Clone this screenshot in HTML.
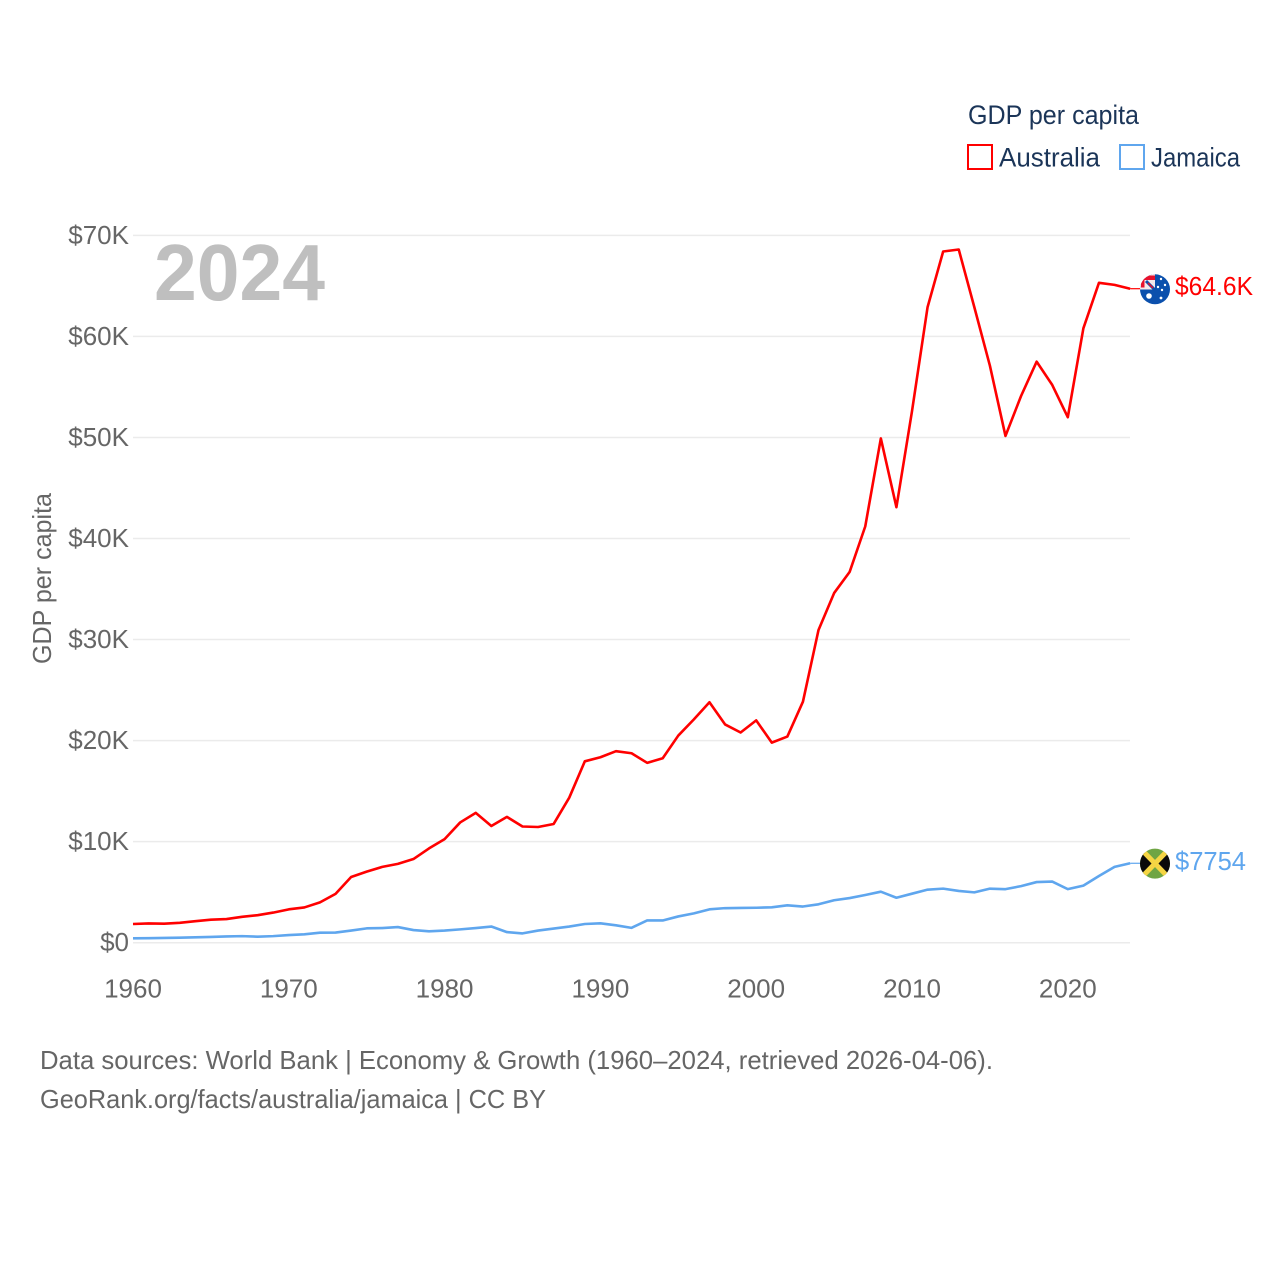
<!DOCTYPE html>
<html>
<head>
<meta charset="utf-8">
<title>GDP per capita: Australia and Jamaica</title>
<style>
html,body{margin:0;padding:0;background:#fff;}
svg{display:block;}
text{font-family:"Liberation Sans",sans-serif;}
.tick{font-size:26px;fill:#666;}
.foot{font-size:26px;fill:#666;}
.leg{font-size:27px;fill:#1b3558;}
</style>
</head>
<body>
<svg id="chart" xmlns="http://www.w3.org/2000/svg" width="1280" height="1280" viewBox="0 0 1280 1280">
  <defs>
    <clipPath id="clip-au"><circle cx="1155" cy="289.3" r="15"/></clipPath>
    <clipPath id="clip-jm"><circle cx="1155" cy="863.6" r="15"/></clipPath>
  </defs>
  <rect x="0" y="0" width="1280" height="1280" fill="#fff"/>
  <g id="grid"></g>
  <g id="yticks"></g>
  <g id="xticks"></g>
  <text x="154" y="300" font-size="80" font-weight="700" fill="#bfbfbf" textLength="171" lengthAdjust="spacingAndGlyphs">2024</text>
  <text class="tick" transform="translate(51,578.5) rotate(-90)" text-anchor="middle" textLength="171" lengthAdjust="spacingAndGlyphs">GDP per capita</text>
  <g id="series"></g>

  <g clip-path="url(#clip-au)">
    <rect x="1140" y="274" width="30" height="31" fill="#0b50ad"/>
    <rect x="1140" y="274" width="15" height="15.5" fill="#f6e9ea"/>
    <path d="M1146 281 L1155 290" stroke="#0b50ad" stroke-width="3" fill="none"/>
    <path d="M1148 283 L1153 288" stroke="#e8112d" stroke-width="1.5" fill="none"/>
    <rect x="1140" y="275.5" width="15" height="4.5" fill="#e8112d"/>
    <rect x="1141" y="275.5" width="3.5" height="12" fill="#e8112d"/>
    <circle cx="1149" cy="296" r="2.8" fill="#fff"/>
    <circle cx="1161" cy="279" r="1.2" fill="#fff"/>
    <circle cx="1158" cy="287" r="1.2" fill="#fff"/>
    <circle cx="1165" cy="285" r="1.2" fill="#fff"/>
    <circle cx="1162" cy="290" r="1.2" fill="#fff"/>
    <circle cx="1161" cy="298" r="1.4" fill="#fff"/>
  </g>
  <g clip-path="url(#clip-jm)">
    <rect x="1140" y="848" width="30" height="31" fill="#6fa544"/>
    <path d="M1138 846 L1155 863.6 L1138 881 Z M1172 846 L1155 863.6 L1172 881 Z" fill="#0a0a0a"/>
    <path d="M1138 846 L1172 881 M1172 846 L1138 881" stroke="#f5d544" stroke-width="5" fill="none"/>
  </g>

  <text id="label-au" x="1175" y="295" font-size="26" fill="#ff0000" textLength="78" lengthAdjust="spacingAndGlyphs"></text>
  <text id="label-jm" x="1175" y="870" font-size="26" fill="#5fa6ee" textLength="71" lengthAdjust="spacingAndGlyphs"></text>

  <g>
    <text class="leg" x="968" y="124" textLength="171" lengthAdjust="spacingAndGlyphs">GDP per capita</text>
    <rect x="968" y="145" width="24" height="24" fill="#fff" stroke="#ff0000" stroke-width="2"/>
    <text class="leg" x="999" y="166.5" textLength="101" lengthAdjust="spacingAndGlyphs">Australia</text>
    <rect x="1120" y="145" width="24" height="24" fill="#fff" stroke="#5fa6ee" stroke-width="2"/>
    <text class="leg" x="1151" y="166.5" textLength="89" lengthAdjust="spacingAndGlyphs">Jamaica</text>
  </g>

  <text class="foot" x="40" y="1069" textLength="953" lengthAdjust="spacingAndGlyphs">Data sources: World Bank | Economy &amp; Growth (1960–2024, retrieved 2026-04-06).</text>
  <text class="foot" x="40" y="1108" textLength="506" lengthAdjust="spacingAndGlyphs">GeoRank.org/facts/australia/jamaica | CC BY</text>
</svg>
<script>
const firstYear = 1960;
const australiaValues = [1.85,1.91,1.88,1.97,2.13,2.28,2.34,2.56,2.72,2.98,3.30,3.49,3.99,4.83,6.50,7.03,7.50,7.80,8.28,9.33,10.25,11.90,12.85,11.55,12.45,11.50,11.45,11.75,14.35,17.95,18.35,18.95,18.75,17.80,18.25,20.50,22.10,23.80,21.60,20.80,22.00,19.80,20.40,23.85,30.95,34.60,36.70,41.20,49.90,43.10,52.60,62.90,68.40,68.60,62.90,57.10,50.15,54.10,57.50,55.20,52.00,60.80,65.30,65.10,64.72];
const jamaicaValues = [0.43,0.45,0.47,0.50,0.53,0.57,0.62,0.65,0.60,0.65,0.76,0.83,0.99,1.00,1.20,1.42,1.45,1.55,1.25,1.13,1.20,1.32,1.45,1.60,1.05,0.92,1.20,1.40,1.60,1.85,1.92,1.72,1.47,2.20,2.20,2.60,2.90,3.30,3.42,3.44,3.46,3.50,3.70,3.58,3.80,4.20,4.42,4.72,5.05,4.45,4.85,5.25,5.35,5.12,4.98,5.35,5.30,5.60,6.00,6.05,5.30,5.65,6.60,7.50,7.86];
const yTickValues = [0,10,20,30,40,50,60,70];
const yTickLabels = ["$0","$10K","$20K","$30K","$40K","$50K","$60K","$70K"];
const xTickValues = [1960,1970,1980,1990,2000,2010,2020];
const xTickLabels = ["1960","1970","1980","1990","2000","2010","2020"];
const endLabels = ["$64.6K","$7754"];

const NS = "http://www.w3.org/2000/svg";
function xScale(year){ return 133 + (year - 1960) * 15.58; }
function yScale(v){ return 942.7 - v * 10.105; }
function make(tag){ return document.createElementNS(NS, tag); }

const grid = document.getElementById("grid");
const yticks = document.getElementById("yticks");
const xticks = document.getElementById("xticks");
const series = document.getElementById("series");

yTickValues.forEach(function(v, i){
  const y = yScale(v);
  const line = make("line");
  
  
  line.setAttribute("x1", 133);
  line.setAttribute("x2", 1130);
  line.setAttribute("y1", y);
  line.setAttribute("y2", y);
  line.setAttribute("stroke", "#ebebeb");
  line.setAttribute("stroke-width", "1.5");
  grid.appendChild(line);
  const t = make("text");
  
  
  t.setAttribute("class", "tick");
  t.setAttribute("x", 129);
  t.setAttribute("y", y + 8.5);
  t.setAttribute("text-anchor", "end");
  t.textContent = yTickLabels[i];
  yticks.appendChild(t);
});

xTickValues.forEach(function(year, i){
  const t = make("text");
  
  
  t.setAttribute("class", "tick");
  t.setAttribute("x", xScale(year));
  t.setAttribute("y", 997.5);
  t.setAttribute("text-anchor", "middle");
  t.textContent = xTickLabels[i];
  xticks.appendChild(t);
});

function pathFor(values){
  return values.map(function(v, i){
    return (i ? "L" : "M") + xScale(firstYear + i).toFixed(2) + " " + yScale(v).toFixed(2);
  }).join(" ");
}

const blueLine = make("path");


blueLine.setAttribute("d", pathFor(jamaicaValues));
blueLine.setAttribute("fill", "none");
blueLine.setAttribute("stroke", "#5fa6ee");
blueLine.setAttribute("stroke-width", "2.6");
blueLine.setAttribute("stroke-linejoin", "round");
series.appendChild(blueLine);

const redLine = make("path");


redLine.setAttribute("d", pathFor(australiaValues));
redLine.setAttribute("fill", "none");
redLine.setAttribute("stroke", "#ff0000");
redLine.setAttribute("stroke-width", "2.6");
redLine.setAttribute("stroke-linejoin", "round");
series.appendChild(redLine);

const lastX = xScale(firstYear + australiaValues.length - 1);

const redStub = make("line");


redStub.setAttribute("x1", lastX);
redStub.setAttribute("x2", lastX + 10);
redStub.setAttribute("y1", yScale(australiaValues[australiaValues.length - 1]));
redStub.setAttribute("y2", yScale(australiaValues[australiaValues.length - 1]));
redStub.setAttribute("stroke", "#ff0000");
redStub.setAttribute("stroke-width", "1.2");
series.appendChild(redStub);

const blueStub = make("line");


blueStub.setAttribute("x1", lastX);
blueStub.setAttribute("x2", lastX + 10);
blueStub.setAttribute("y1", yScale(jamaicaValues[jamaicaValues.length - 1]));
blueStub.setAttribute("y2", yScale(jamaicaValues[jamaicaValues.length - 1]));
blueStub.setAttribute("stroke", "#5fa6ee");
blueStub.setAttribute("stroke-width", "1.2");
series.appendChild(blueStub);

document.getElementById("label-au").textContent = endLabels[0];
document.getElementById("label-jm").textContent = endLabels[1];
</script>
</body>
</html>
